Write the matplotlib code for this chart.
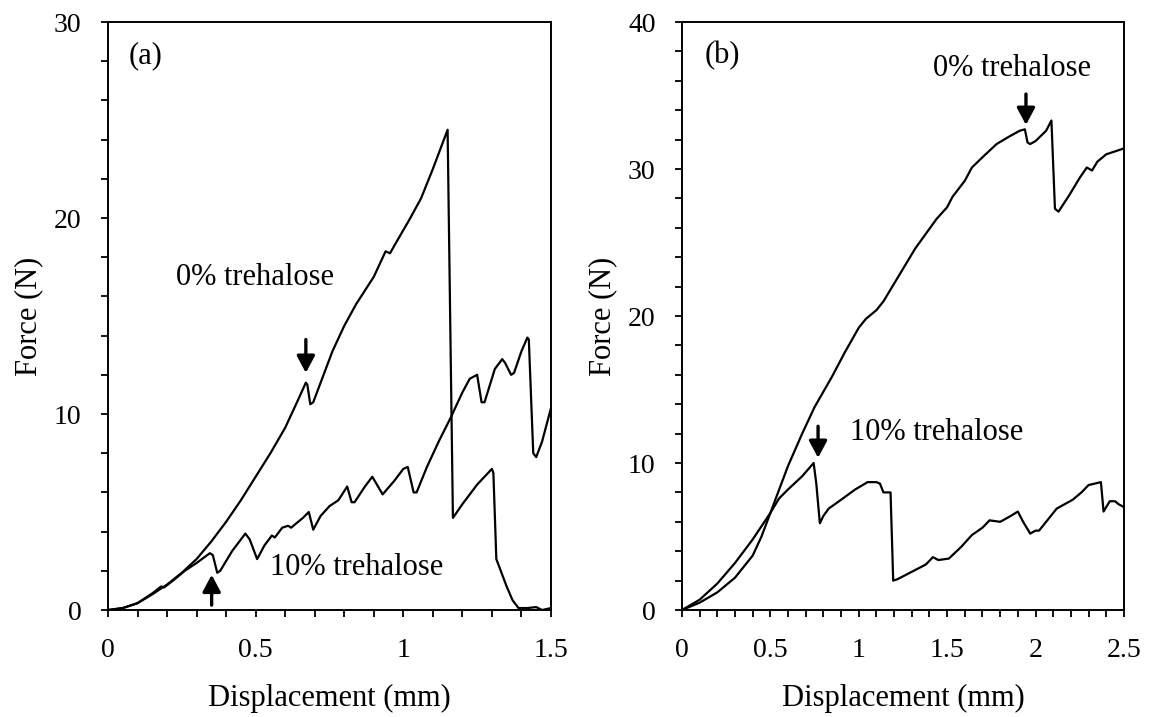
import matplotlib
matplotlib.use('Agg')
import matplotlib.pyplot as plt
from matplotlib.ticker import MultipleLocator

plt.rcParams['font.family'] = ['Liberation Serif', 'DejaVu Serif']

# (a) force-displacement
a_x0 = [0, 0.05, 0.1, 0.15, 0.2, 0.25, 0.3, 0.35, 0.4, 0.45, 0.5, 0.55, 0.6, 0.64, 0.67, 0.675,
        0.685, 0.695, 0.73, 0.76, 0.8, 0.84, 0.9, 0.94, 0.955, 0.97, 1.02, 1.06, 1.1, 1.15, 1.168,
        1.2, 1.25, 1.3, 1.305, 1.315, 1.33, 1.35, 1.37, 1.39, 1.42, 1.45, 1.47, 1.5]
a_y0 = [0, 0.1, 0.35, 0.8, 1.3, 1.9, 2.6, 3.5, 4.5, 5.6, 6.8, 8.0, 9.3, 10.6, 11.6, 11.5,
        10.5, 10.6, 12.0, 13.2, 14.5, 15.6, 17.0, 18.3, 18.2, 18.6, 19.9, 21.0, 22.5, 24.5, 4.7,
        5.4, 6.4, 7.2, 7.0, 2.6, 2.0, 1.2, 0.5, 0.1, 0.1, 0.15, 0.0, 0.1]

a_x10 = [0, 0.05, 0.1, 0.15, 0.18, 0.19, 0.22, 0.26, 0.3, 0.345, 0.355, 0.37, 0.38, 0.42, 0.465,
         0.48, 0.505, 0.53, 0.555, 0.565, 0.59, 0.61, 0.62, 0.66, 0.68, 0.695, 0.72, 0.75, 0.78,
         0.81, 0.825, 0.835, 0.87, 0.895, 0.93, 0.97, 1.0, 1.015, 1.035, 1.045, 1.08, 1.12, 1.16,
         1.2, 1.225, 1.25, 1.265, 1.275, 1.31, 1.335, 1.345, 1.365, 1.375, 1.4, 1.42, 1.425, 1.44,
         1.45, 1.47, 1.5]
a_y10 = [0, 0.1, 0.35, 0.85, 1.2, 1.15, 1.5, 2.0, 2.4, 2.9, 2.8, 1.9, 2.0, 3.0, 3.9,
         3.6, 2.6, 3.3, 3.8, 3.7, 4.2, 4.3, 4.2, 4.7, 5.0, 4.1, 4.8, 5.3, 5.6,
         6.3, 5.5, 5.5, 6.3, 6.8, 5.9, 6.6, 7.2, 7.3, 6.0, 6.0, 7.3, 8.6, 9.8,
         11.1, 11.8, 12.0, 10.6, 10.6, 12.3, 12.8, 12.6, 12.0, 12.1, 13.2, 13.9, 13.8, 8.0,
         7.8, 8.6, 10.3]

# (b) force-displacement
b_x0 = [0, 0.1, 0.2, 0.3, 0.4, 0.45, 0.5, 0.55, 0.6, 0.68, 0.75, 0.85, 0.92, 1.0, 1.04, 1.1,
        1.14, 1.21, 1.32, 1.44, 1.5, 1.53, 1.6, 1.64, 1.7, 1.78, 1.85, 1.91, 1.94, 1.955, 1.97,
        2.0, 2.06, 2.09, 2.11, 2.13, 2.19, 2.25, 2.29, 2.32, 2.35, 2.4, 2.5]
b_y0 = [0, 0.5, 1.2, 2.2, 3.7, 5.0, 6.6, 8.2, 9.8, 12.0, 13.8, 15.9, 17.5, 19.2, 19.8, 20.4,
        21.0, 22.4, 24.6, 26.6, 27.4, 28.1, 29.2, 30.1, 30.8, 31.7, 32.2, 32.6, 32.7, 31.8, 31.7,
        31.9, 32.6, 33.3, 27.3, 27.1, 28.2, 29.4, 30.1, 29.9, 30.5, 31.0, 31.4]

b_x10 = [0, 0.1, 0.2, 0.3, 0.4, 0.5, 0.55, 0.6, 0.68, 0.745, 0.76, 0.78, 0.8, 0.83, 0.9, 0.98,
         1.05, 1.1, 1.12, 1.14, 1.18, 1.195, 1.22, 1.3, 1.38, 1.42, 1.45, 1.51, 1.58, 1.64, 1.7,
         1.74, 1.8, 1.86, 1.9, 1.93, 1.97, 2.0, 2.02, 2.08, 2.12, 2.21, 2.26, 2.3, 2.37, 2.385,
         2.42, 2.45, 2.47, 2.5]
b_y10 = [0, 0.7, 1.8, 3.2, 4.8, 6.6, 7.6, 8.2, 9.1, 10.0, 8.6, 5.9, 6.4, 6.9, 7.5, 8.2,
         8.7, 8.7, 8.6, 8.0, 8.0, 2.0, 2.1, 2.6, 3.1, 3.6, 3.4, 3.5, 4.3, 5.1, 5.6,
         6.1, 6.0, 6.4, 6.7, 6.0, 5.2, 5.4, 5.4, 6.3, 6.9, 7.5, 8.0, 8.5, 8.7, 6.7,
         7.4, 7.4, 7.2, 7.0]

a_xticks = [0, 0.5, 1, 1.5]
a_xlabels = ['0', '0.5', '1', '1.5']
b_xticks = [0, 0.5, 1, 1.5, 2, 2.5]
b_xlabels = ['0', '0.5', '1', '1.5', '2', '2.5']

TXT = 22
TICK = 20

fig = plt.figure(figsize=(11.5, 7.17), dpi=100)
ax_a = fig.add_axes([0.0939, 0.1492, 0.3852, 0.8201])
ax_b = fig.add_axes([0.5930, 0.1492, 0.3843, 0.8201])


def style_axes(ax, xmax, ymax, ticks, labels):
    ax.set_xlim(0, xmax)
    ax.set_ylim(0, ymax)
    ax.set_xticks(ticks)
    ax.set_xticklabels(labels)
    ax.xaxis.set_minor_locator(MultipleLocator(0.1))
    ax.yaxis.set_major_locator(MultipleLocator(10))
    ax.yaxis.set_minor_locator(MultipleLocator(2))
    ax.tick_params(which='both', direction='out', length=5, width=1.3, labelsize=TICK)
    ax.tick_params(axis='x', pad=15)
    ax.tick_params(axis='y', pad=14)
    for sp in ax.spines.values():
        sp.set_linewidth(1.4)
    ax.set_xlabel('Displacement (mm)', fontsize=TXT, labelpad=15)
    ax.set_ylabel('Force (N)', fontsize=TXT, labelpad=8)


def arrow(ax, x, y_tail, y_tip):
    # small solid arrow marking the first crack event
    ax.annotate('', xy=(x, y_tip), xytext=(x, y_tail),
                arrowprops=dict(arrowstyle='-|>,head_width=0.32,head_length=0.6',
                                mutation_scale=17, lw=2.4, color='k',
                                shrinkA=0, shrinkB=0))


ax_a.plot(a_x0, a_y0, color='k', lw=1.6)
ax_a.plot(a_x10, a_y10, color='k', lw=1.6)
style_axes(ax_a, 1.5, 30, a_xticks, a_xlabels)
ax_a.text(0.071, 27.9, '(a)', fontsize=TXT, va='baseline')
ax_a.text(0.230, 16.6, '0% trehalose', fontsize=TXT, va='baseline')
ax_a.text(0.549, 1.8, '10% trehalose', fontsize=TXT, va='baseline')
arrow(ax_a, 0.67, 13.8, 12.1)
arrow(ax_a, 0.351, 0.25, 1.8)

ax_b.plot(b_x0, b_y0, color='k', lw=1.6)
ax_b.plot(b_x10, b_y10, color='k', lw=1.6)
style_axes(ax_b, 2.5, 40, b_xticks, b_xlabels)
ax_b.text(0.13, 37.2, '(b)', fontsize=TXT, va='baseline')
ax_b.text(1.42, 36.3, '0% trehalose', fontsize=TXT, va='baseline')
ax_b.text(0.95, 11.6, '10% trehalose', fontsize=TXT, va='baseline')
arrow(ax_b, 1.946, 35.1, 33.0)
arrow(ax_b, 0.77, 12.5, 10.35)

fig.savefig('out.png', dpi=100)
